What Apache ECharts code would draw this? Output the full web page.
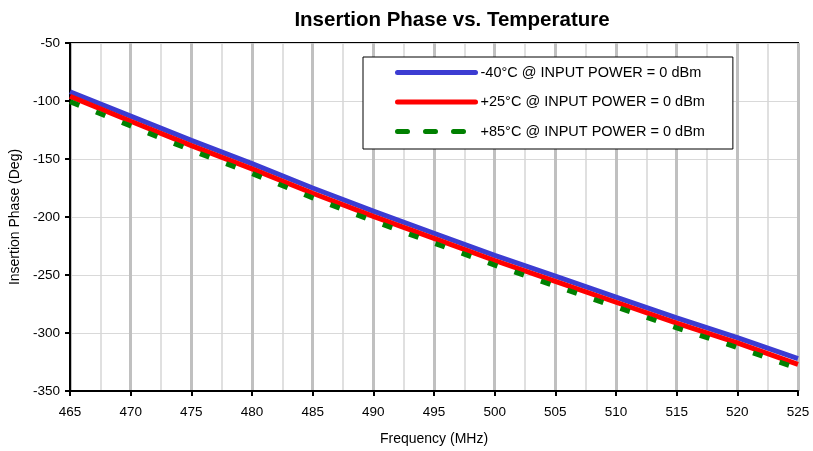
<!DOCTYPE html>
<html>
<head>
<meta charset="utf-8">
<script src="https://cdn.jsdelivr.net/npm/echarts@6/dist/echarts.min.js"></script>
<style>
  html, body { margin: 0; padding: 0; background: #fff; }
  #chart { width: 813px; height: 451px; }
</style>
</head>
<body>
<div id="chart"></div>
<script>
// frequency in MHz
var freqs = [465, 470, 475, 480, 485, 490, 495, 500, 505, 510, 515, 520, 525]
// insertion phase (deg)
var phaseM40 = [-92, -113, -134, -154, -175, -195, -214, -233, -251, -269, -287, -304, -322]
var phaseP25 = [-96, -117.5, -138.5, -158.5, -179.5, -199.5, -218.5, -237.5, -255.5, -273.5, -291.5, -308.5, -327]
var phaseP85 = [-100.5, -121.5, -142.5, -162.5, -183.5, -203.5, -222.5, -241.5, -259.5, -277.5, -295.5, -312.5, -330.5]
var seriesNames = [
  '-40°C @ INPUT POWER = 0 dBm',
  '+25°C @ INPUT POWER = 0 dBm',
  '+85°C @ INPUT POWER = 0 dBm'
]

function pairs(xs, ys) {
  return xs.map(function(x, i) { return [x, ys[i]] })
}

var chart = echarts.init(document.getElementById('chart'))
var font = 'Liberation Sans, Arial, sans-serif'

chart.setOption({
  animation: false,
  backgroundColor: '#fff',
  textStyle: { fontFamily: font },
  title: {
    text: 'Insertion Phase vs. Temperature',
    left: 447,
    top: 5,
    textAlign: 'center',
    textStyle: { fontFamily: font, fontSize: 20.5, fontWeight: 'bold', color: '#000' }
  },
  legend: {
    orient: 'vertical',
    left: 363,
    top: 57,
    padding: [8, 28, 10, 32],
    itemGap: 14.5,
    itemWidth: 78,
    itemHeight: 14,
    backgroundColor: '#fff',
    borderColor: '#000',
    borderWidth: 1,
    borderRadius: 0,
    itemStyle: { opacity: 0 },
    lineStyle: { width: 5, cap: 'round' },
    textStyle: { fontFamily: font, fontSize: 14.5, color: '#000' },
    data: seriesNames
  },
  grid: {
    left: 70,
    right: 15,
    top: 43,
    bottom: 60,
    show: true,
    borderColor: '#000',
    borderWidth: 2,
    backgroundColor: 'transparent'
  },
  xAxis: {
    type: 'value',
    min: 465,
    max: 525,
    interval: 5,
    name: 'Frequency (MHz)',
    nameLocation: 'middle',
    nameGap: 41,
    nameTextStyle: { fontFamily: font, fontSize: 14, color: '#000' },
    axisLine: { lineStyle: { color: '#000', width: 2 } },
    axisTick: { show: true, length: 5, lineStyle: { color: '#000', width: 2 } },
    axisLabel: { fontFamily: font, fontSize: 13.5, color: '#000', margin: 14 },
    splitLine: { show: true, lineStyle: { color: '#c0c0c0', width: 3 } },
    minorTick: { show: false, splitNumber: 2 },
    minorSplitLine: { show: true, lineStyle: { color: '#d6d6d6', width: 1.5 } }
  },
  yAxis: {
    type: 'value',
    min: -350,
    max: -50,
    interval: 50,
    name: 'Insertion Phase (Deg)',
    nameLocation: 'middle',
    nameGap: 46,
    nameTextStyle: { fontFamily: font, fontSize: 14, color: '#000' },
    axisLine: { show: true, lineStyle: { color: '#000', width: 2 } },
    axisTick: { show: true, length: 5, lineStyle: { color: '#000', width: 2 } },
    axisLabel: { fontFamily: font, fontSize: 13.5, color: '#000', margin: 10 },
    splitLine: { show: true, lineStyle: { color: '#d9d9d9', width: 1 } }
  },
  series: [{
    name: seriesNames[0],
    type: 'line',
    symbol: 'none',
    color: '#3c3cd2',
    lineStyle: { color: '#3c3cd2', width: 5 },
    data: pairs(freqs, phaseM40)
  }, {
    name: seriesNames[1],
    type: 'line',
    symbol: 'none',
    color: '#ff0000',
    lineStyle: { color: '#ff0000', width: 5 },
    data: pairs(freqs, phaseP25)
  }, {
    name: seriesNames[2],
    type: 'line',
    symbol: 'none',
    color: '#008000',
    lineStyle: { color: '#008000', width: 5, type: [10, 18] },
    data: pairs(freqs, phaseP85)
  }]
})
</script>
</body>
</html>
